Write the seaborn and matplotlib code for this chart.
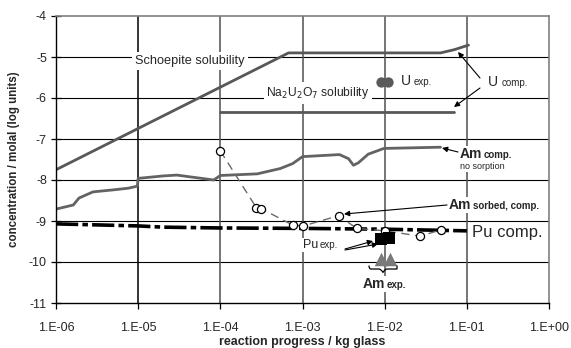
import numpy as np
import pandas as pd
import matplotlib
matplotlib.use("Agg")
import matplotlib.pyplot as plt
import seaborn as sns
from matplotlib.ticker import FixedLocator, FixedFormatter, NullLocator
from matplotlib.path import Path
from matplotlib.patches import PathPatch

# ---------------- data ----------------
x_ticks = [1e-6, 1e-5, 1e-4, 1e-3, 1e-2, 1e-1, 1e0]
x_tick_labels = ["1.E-06", "1.E-05", "1.E-04", "1.E-03", "1.E-02", "1.E-01", "1.E+00"]
y_ticks = [-11, -10, -9, -8, -7, -6, -5, -4]
y_tick_labels = ["-11", "-10", "-9", "-8", "-7", "-6", "-5", "-4"]

schoepite_logx = [-6.0, -3.17, -1.32, -1.15, -0.98]
schoepite_y = [-7.75, -4.90, -4.90, -4.82, -4.71]

na2u2o7_logx = [-4.0, -1.16]
na2u2o7_y = [-6.34, -6.34]

u_exp_logx = [-2.05, -1.96]
u_exp_y = [-5.61, -5.61]

am_nosorp_logx = [-6.0, -5.79, -5.72, -5.55, -5.30, -5.12, -5.01, -5.0, -4.69, -4.53,
                  -4.08, -4.0, -3.55, -3.27, -3.12, -3.0, -2.55, -2.44, -2.38, -2.32,
                  -2.20, -2.01, -1.32]
am_nosorp_y = [-8.71, -8.61, -8.44, -8.29, -8.24, -8.20, -8.15, -7.96, -7.90, -7.88,
               -8.00, -7.89, -7.85, -7.72, -7.60, -7.43, -7.38, -7.48, -7.64, -7.58,
               -7.37, -7.23, -7.20]

am_sorbed_logx = [-4.0, -3.56, -3.50, -3.12, -2.99, -2.56, -2.34, -1.99, -1.57, -1.32]
am_sorbed_y = [-7.29, -8.68, -8.70, -9.10, -9.12, -8.87, -9.18, -9.24, -9.37, -9.22]

pu_comp_logx = [-6.0, -5.0, -4.7, -4.0, -3.0, -2.0, -1.0]
pu_comp_y = [-9.07, -9.12, -9.15, -9.17, -9.18, -9.20, -9.24]

pu_exp_logx = [-2.04, -1.95]
pu_exp_y = [-9.44, -9.42]

am_exp_logx = [-2.04, -1.94]
am_exp_y = [-9.93, -9.93]

# ---------------- style ----------------
sns.set_style("white")
plt.rcParams["font.family"] = ["Liberation Sans", "DejaVu Sans"]
plt.rcParams["axes.unicode_minus"] = False
plt.rcParams["lines.scale_dashes"] = False

W, H = 571, 348
fig = plt.figure(figsize=(W / 100, H / 100), dpi=100)
L, R, T, B = 56, 549, 16, 303
ax = fig.add_axes([L / W, 1 - B / H, (R - L) / W, (B - T) / H])
renderer = fig.canvas.get_renderer()

def fx(px):
    return px / W

def fy(py):
    return 1 - py / H

def tx(v):
    return [10.0 ** a for a in v]

# grid lines
for yv in y_ticks[1:-1]:
    ax.axhline(yv, color="black", lw=0.8, zorder=0.5)
for xv in x_ticks[1:-1]:
    ax.axvline(xv, color="black" if xv == 1e-5 else "#505050", lw=1.1, zorder=0.5)

grey = "#636363"

sns.lineplot(x=tx(schoepite_logx), y=schoepite_y, ax=ax, color="#585858", lw=2.0,
             sort=False, estimator=None, zorder=2)
sns.lineplot(x=tx(na2u2o7_logx), y=na2u2o7_y, ax=ax, color="#585858", lw=2.0,
             sort=False, estimator=None, zorder=2)
sns.lineplot(x=tx(am_nosorp_logx), y=am_nosorp_y, ax=ax, color=grey, lw=2.0,
             sort=False, estimator=None, zorder=2)
sns.lineplot(x=tx(pu_comp_logx), y=pu_comp_y, ax=ax, color="black", lw=2.6,
             linestyle=(0, (16, 3, 4, 3)), sort=False, estimator=None, zorder=2.5)
sns.lineplot(x=tx(am_sorbed_logx), y=am_sorbed_y, ax=ax, color="#6a6a6a", lw=1.0,
             linestyle=(0, (6, 4)), sort=False, estimator=None, zorder=3)
sns.scatterplot(x=tx(am_sorbed_logx), y=am_sorbed_y, ax=ax, marker="o", s=34,
                facecolor="white", edgecolor="black", linewidth=0.9, zorder=4)
sns.scatterplot(x=tx(u_exp_logx), y=u_exp_y, ax=ax, marker="o", s=55,
                color="#5a5a5a", edgecolor="#5a5a5a", linewidth=0, zorder=4)
sns.scatterplot(x=tx(pu_exp_logx), y=pu_exp_y, ax=ax, marker="s", s=65,
                color="black", edgecolor="black", linewidth=0, zorder=4)
sns.scatterplot(x=tx(am_exp_logx), y=am_exp_y, ax=ax, marker="^", s=95,
                color="#7a7a7a", edgecolor="#7a7a7a", linewidth=0, zorder=4)

ax.set_xscale("log")
ax.set_xlim(x_ticks[0], x_ticks[-1])
ax.set_ylim(y_ticks[0], y_ticks[-1])
ax.xaxis.set_major_locator(FixedLocator(x_ticks))
ax.xaxis.set_major_formatter(FixedFormatter(x_tick_labels))
ax.xaxis.set_minor_locator(NullLocator())
ax.yaxis.set_major_locator(FixedLocator(y_ticks))
ax.yaxis.set_major_formatter(FixedFormatter(y_tick_labels))
ax.tick_params(axis="x", direction="out", length=4, width=0.9, color="black",
               labelsize=9, pad=10, bottom=True)
ax.tick_params(axis="y", direction="inout", length=7, width=0.9, color="black",
               labelsize=9, pad=3, left=True)
for s in ["left", "bottom"]:
    ax.spines[s].set_color("black")
    ax.spines[s].set_linewidth(1.0)
for s in ["top", "right"]:
    ax.spines[s].set_color("#808080")
    ax.spines[s].set_linewidth(1.2)

fig.text(fx(14), fy(159), "concentration / molal (log units)", rotation=90,
         ha="center", va="center", fontsize=8.3, fontweight="bold")
fig.text(fx(302), fy(342), "reaction progress / kg glass", ha="center",
         va="center", fontsize=9, fontweight="bold")

# labels
fig.text(fx(190), fy(61), "Schoepite solubility", ha="center", va="center",
         fontsize=9.2, bbox=dict(facecolor="white", edgecolor="none", pad=2.5), zorder=5)
fig.text(fx(318), fy(93), r"Na$_2$U$_2$O$_7$ solubility", ha="center", va="center",
         fontsize=8.7, bbox=dict(facecolor="white", edgecolor="none", pad=2.0), zorder=5)

def two_part(x1, base, big, small, bsize, ssize, weight="normal", box=True, gap=1.5):
    kw = dict(va="baseline", ha="left", fontweight=weight)
    t1 = fig.text(fx(x1), fy(base), big, fontsize=bsize, zorder=6.2, **kw)
    ext = t1.get_window_extent(renderer=renderer)
    t2 = fig.text((ext.x1 + gap) / W, fy(base), small, fontsize=ssize, zorder=6.1, **kw)
    if box:
        t1.set_bbox(dict(facecolor="white", edgecolor="none", pad=0.8))
        t2.set_bbox(dict(facecolor="white", edgecolor="none", pad=0.8))

two_part(401, 85, "U", "exp.", 10, 7, gap=3)
two_part(488, 86, "U", "comp.", 10, 7, box=False, gap=3)
two_part(460, 158, "Am", "comp.", 10, 7, weight="bold")
fig.text(fx(460), fy(169), "no sorption", ha="left", va="baseline", fontsize=6.5,
         bbox=dict(facecolor="white", edgecolor="none", pad=1.0), zorder=6)
two_part(449, 209, "Am", "sorbed, comp.", 10, 7, weight="bold")
fig.text(fx(472), fy(237), "Pu comp.", ha="left", va="baseline", fontsize=12, zorder=6)
two_part(303, 248, "Pu", "exp.", 9, 7)
two_part(363, 288, "Am", "exp.", 10, 7, weight="bold")

# brace under Am exp triangles (figure pixel coords)
bx0, bx1, bym, bh = 369, 397, 269, 3.5
bc = (bx0 + bx1) / 2
pts = [(bx0, bym - bh), (bx0, bym), (bx0 + 2, bym), (bx0 + 4, bym),
       (bc - 4, bym), (bc - 2, bym), (bc, bym + bh),
       (bc + 2, bym), (bc + 4, bym), (bx1 - 4, bym),
       (bx1 - 2, bym), (bx1, bym), (bx1, bym - bh)]
codes = [Path.MOVETO, Path.CURVE3, Path.CURVE3, Path.LINETO,
         Path.LINETO, Path.CURVE3, Path.CURVE3,
         Path.CURVE3, Path.CURVE3, Path.LINETO,
         Path.CURVE3, Path.CURVE3, Path.LINETO]
bp = Path([(fx(a), fy(b)) for a, b in pts], codes)
fig.add_artist(PathPatch(bp, transform=fig.transFigure, facecolor="none",
                         edgecolor="black", lw=0.9, zorder=7))

arrow = dict(arrowstyle="-|>", color="black", lw=0.8, mutation_scale=8,
             shrinkA=0, shrinkB=0)

def arr(p_from, p_to):
    ax.annotate("", xy=(fx(p_to[0]), fy(p_to[1])), xycoords="figure fraction",
                xytext=(fx(p_from[0]), fy(p_from[1])), textcoords="figure fraction",
                arrowprops=arrow, zorder=6)

arr((480, 78), (458, 52))
arr((480, 88), (454, 107))
arr((458, 152), (442, 148))
arr((447, 205), (344, 214))
arr((345, 249), (373, 241))
arr((345, 250), (378, 244))

fig.savefig("out.png", dpi=100)
